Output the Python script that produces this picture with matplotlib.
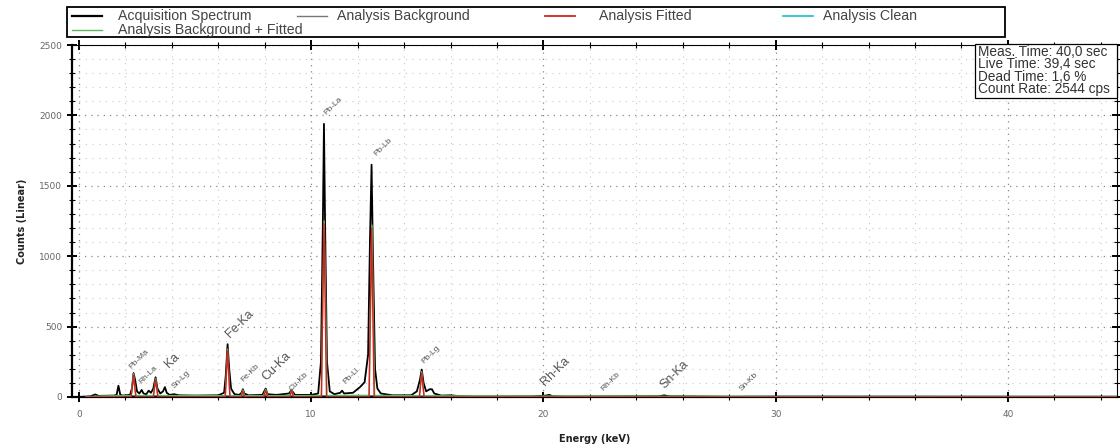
import matplotlib
matplotlib.use("Agg")
import matplotlib.pyplot as plt
from matplotlib.lines import Line2D
from matplotlib.patches import Rectangle
from matplotlib.ticker import MultipleLocator

# ---------------- data ----------------
acq_energy = [0.0, 0.5, 0.7, 0.85, 1.5, 1.62, 1.7, 1.78, 1.9, 2.2, 2.28, 2.35, 2.42, 2.5, 2.6,
              2.7, 2.78, 2.9, 3.0, 3.1, 3.2, 3.3, 3.38, 3.5, 3.62, 3.7, 3.78, 3.9, 4.1, 4.3,
              5.0, 6.0, 6.25, 6.32, 6.4, 6.47, 6.55, 6.62, 6.7, 6.9, 7.0, 7.06, 7.12, 7.3,
              7.9, 8.04, 8.12, 8.5, 9.05, 9.15, 9.3, 10.0, 10.3, 10.42, 10.5, 10.55, 10.6,
              10.68, 10.8, 11.0, 11.25, 11.33, 11.42, 11.8, 12.1, 12.3, 12.45, 12.53, 12.6,
              12.66, 12.75, 12.85, 13.0, 13.5, 14.3, 14.55, 14.68, 14.76, 14.84, 14.95, 15.1,
              15.2, 15.3, 15.6, 16.0, 16.4, 17.0, 19.5, 20.1, 20.25, 20.4, 21.0, 25.0, 25.2,
              25.4, 28.0, 30.0, 44.7]
acq_counts = [0, 5, 18, 8, 10, 15, 80, 15, 10, 15, 60, 170, 120, 40, 25,
              50, 25, 20, 45, 30, 60, 140, 60, 25, 40, 70, 30, 15, 20, 12,
              10, 12, 30, 150, 375, 200, 60, 40, 20, 15, 30, 55, 25, 12,
              15, 60, 20, 15, 25, 50, 15, 15, 25, 250, 1200, 1940, 1200,
              250, 40, 20, 30, 45, 25, 30, 70, 105, 300, 1100, 1650,
              1000, 200, 60, 25, 12, 12, 40, 120, 195, 100, 40, 55,
              55, 25, 10, 12, 6, 3, 4, 10, 15, 5, 3, 5, 12,
              5, 2, 3, 2]

bg_energy = [0.3, 1.0, 2.0, 4.0, 6.0, 8.0, 10.0, 12.0, 14.0, 16.0, 18.0, 22.0, 30.0, 44.7]
bg_counts = [2, 8, 10, 10, 9, 9, 10, 11, 9, 7, 4, 3, 2, 1]

fit_energy = [0.3, 2.25, 2.35, 2.45, 3.2, 3.3, 3.4, 6.3, 6.4, 6.5, 6.98, 7.06, 7.14,
              7.95, 8.04, 8.13, 9.08, 9.16, 9.24, 10.44, 10.5, 10.55, 10.6, 10.66,
              12.49, 12.55, 12.6, 12.65, 12.71, 14.66, 14.76, 14.86, 44.7]
fit_counts = [0, 0, 155, 0, 0, 120, 0, 0, 330, 0, 0, 40, 0,
              0, 45, 0, 0, 45, 0, 0, 700, 1230, 700, 0,
              0, 650, 1200, 650, 0, 0, 170, 0, 0]

bgfit_energy = [0.3, 2.25, 2.35, 2.45, 3.2, 3.3, 3.4, 6.3, 6.4, 6.5, 6.98, 7.06, 7.14,
                7.95, 8.04, 8.13, 9.08, 9.16, 9.24, 10.44, 10.5, 10.56, 10.62, 10.68,
                12.5, 12.56, 12.62, 12.67, 12.73, 14.66, 14.76, 14.86, 16.0, 44.7]
bgfit_counts = [2, 10, 165, 10, 10, 130, 10, 9, 340, 9, 9, 49, 9,
                9, 54, 9, 10, 55, 10, 10, 710, 1250, 710, 10,
                11, 660, 1220, 660, 11, 9, 180, 9, 7, 1]

legend_labels = ["Acquisition Spectrum", "Analysis Background", "Analysis Fitted",
                 "Analysis Clean", "Analysis Background + Fitted"]
legend_colors = ["black", "#777777", "#d62020", "#2ec4d6", "#5cb85c"]

peak_labels = ["Pb-Ma", "Rh-La", "Ka", "Sn-Lg", "Fe-Ka", "Fe-Kb", "Cu-Ka", "Cu-Kb",
               "Pb-La", "Pb-Ll", "Pb-Lb", "Pb-Lg", "Rh-Ka", "Rh-Kb", "Sn-Ka", "Sn-Kb"]
peak_label_energy = [2.3, 2.75, 3.95, 4.15, 6.6, 7.15, 8.15, 9.2,
                     10.7, 11.55, 12.85, 14.9, 20.15, 22.65, 25.3, 28.6]
peak_label_counts = [190, 85, 190, 50, 405, 100, 100, 30,
                     1990, 85, 1700, 225, 60, 30, 40, 30]
peak_label_big = [False, False, True, False, True, False, True, False,
                  False, False, False, False, True, False, True, False]

info_lines = ["Meas. Time: 40,0 sec", "Live Time: 39,4 sec",
              "Dead Time: 1,6 %", "Count Rate: 2544 cps"]

# ---------------- figure ----------------
W, H = 1120, 446
fig = plt.figure(figsize=(W / 100, H / 100), dpi=100)
ax = fig.add_axes([72 / W, 1 - 397 / H, (1117 - 72) / W, (397 - 45) / H])

ax.plot(acq_energy, acq_counts, color=legend_colors[0], lw=1.3, zorder=3)
ax.plot(bg_energy, bg_counts, color=legend_colors[1], lw=0.8, zorder=4)
ax.plot(bgfit_energy, bgfit_counts, color=legend_colors[4], lw=1.0, zorder=5)
ax.plot(fit_energy, fit_counts, color=legend_colors[2], lw=1.0, zorder=6)

ax.set_xlim(-0.3, 44.7)
ax.set_ylim(0, 2500)

ax.xaxis.set_major_locator(MultipleLocator(10))
ax.xaxis.set_minor_locator(MultipleLocator(2))
ax.yaxis.set_major_locator(MultipleLocator(500))
ax.yaxis.set_minor_locator(MultipleLocator(100))

ax.tick_params(which="both", direction="inout", top=True, right=True,
               colors="black", labelcolor="#666666", labelsize=6.5)
ax.tick_params(which="major", length=7, width=1.4)
ax.tick_params(which="minor", length=4, width=0.8)
ax.tick_params(axis="x", which="major", pad=6)

ax.grid(which="major", color="#888888", linestyle=(0, (1, 4)), lw=0.9)
ax.grid(which="minor", color="#c8c8c8", linestyle=(0, (1, 5)), lw=0.8)
ax.set_axisbelow(True)

for s in ["left", "bottom"]:
    ax.spines[s].set_linewidth(1.6)
for s in ["top", "right"]:
    ax.spines[s].set_linewidth(0.8)

ax.set_xlabel("Energy (keV)", fontsize=7, fontweight="bold", color="#222222", labelpad=11)
ax.set_ylabel("Counts (Linear)", fontsize=7, fontweight="bold", color="#222222", labelpad=9)

for txt, e, c, big in zip(peak_labels, peak_label_energy, peak_label_counts, peak_label_big):
    ax.text(e, c, txt, rotation=45, rotation_mode="anchor", ha="left", va="bottom",
            fontsize=9 if big else 6, color="#555555", zorder=7,
            family="Liberation Sans")

# info box
fig.add_artist(Rectangle((975 / W, 1 - 98 / H), (1117 - 975) / W, (98 - 44) / H,
                         transform=fig.transFigure, fc="white", ec="black", lw=0.9,
                         zorder=8))
for i, line in enumerate(info_lines):
    fig.text(978 / W, 1 - (52 + 12.3 * i) / H, line, ha="left", va="center",
             fontsize=9.8, color="#333333", family="Liberation Sans", zorder=9)

# legend (drawn manually to match column placement)
fig.add_artist(Rectangle((67 / W, 1 - 37 / H), (1005 - 67) / W, 30 / H,
                         transform=fig.transFigure, fill=False, ec="black", lw=1.3))
leg_x_line = [72, 297, 545, 783, 72]
leg_x_text = [118, 337, 599, 823, 118]
leg_y = [16, 16, 16, 16, 30]
leg_lw = [1.6, 1.0, 1.3, 1.3, 1.0]
for lab, col, xl, xt, yy, lw in zip(legend_labels, legend_colors, leg_x_line, leg_x_text, leg_y, leg_lw):
    fig.add_artist(Line2D([xl / W, (xl + 30) / W], [1 - yy / H, 1 - yy / H],
                          transform=fig.transFigure, color=col, lw=lw))
    fig.text(xt / W, 1 - yy / H, lab, ha="left", va="center", fontsize=10.2,
             color="#444444", family="Liberation Sans")

fig.savefig("out.png", dpi=100)
